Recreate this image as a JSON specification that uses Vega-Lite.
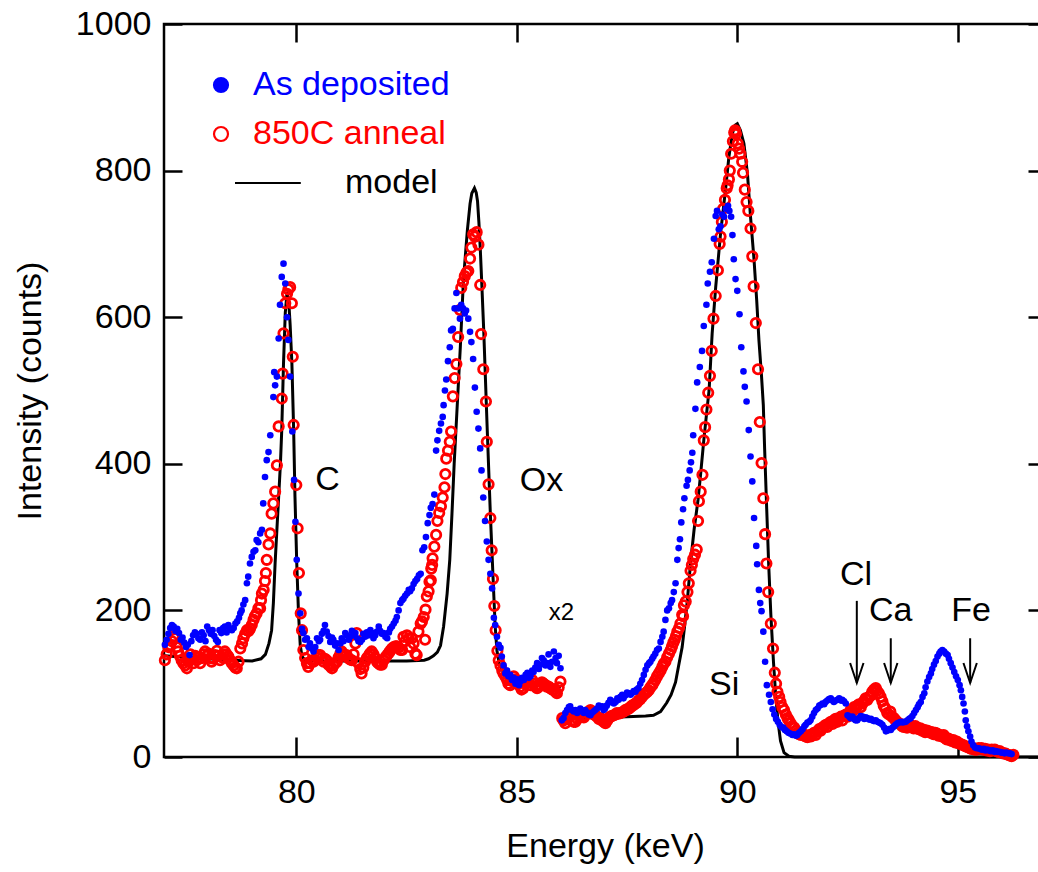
{
  "$schema": "https://vega.github.io/schema/vega-lite/v6.json",
  "autosize": {"type": "none"},
  "padding": {"left": 164, "top": 24, "right": 0, "bottom": 115},
  "width": 882,
  "height": 733,
  "config": {
    "view": {"stroke": "#000000", "strokeWidth": 2.5},
    "font": "Liberation Sans",
    "axis": {"labelFont": "Liberation Sans", "titleFont": "Liberation Sans", "labelColor": "#000000", "titleColor": "#000000", "titleFontWeight": "normal", "grid": false, "domain": false, "tickColor": "#000000", "tickWidth": 2.5},
    "legend": {
      "orient": "none", "legendX": 40, "legendY": 44, "title": null, "padding": 0,
      "labelFontSize": 34, "labelFont": "Liberation Sans", "labelOffset": 15, "rowPadding": 15, "symbolSize": 196, "labelLimit": 0
    }
  },
  "datasets": {
    "blue": [
      {"e":77.02,"i":153},{"e":77.06,"i":160},{"e":77.1,"i":168},{"e":77.14,"i":176},{"e":77.18,"i":180},{"e":77.22,"i":178},{"e":77.26,"i":172},{"e":77.3,"i":175},{"e":77.34,"i":169},{"e":77.38,"i":160},{"e":77.42,"i":163},{"e":77.46,"i":156},{"e":77.5,"i":150},{"e":77.54,"i":153},{"e":77.58,"i":139},{"e":77.62,"i":158},{"e":77.66,"i":166},{"e":77.7,"i":170},{"e":77.74,"i":168},{"e":77.78,"i":162},{"e":77.82,"i":160},{"e":77.86,"i":170},{"e":77.9,"i":166},{"e":77.94,"i":158},{"e":77.98,"i":178},{"e":78.02,"i":173},{"e":78.06,"i":168},{"e":78.1,"i":173},{"e":78.14,"i":165},{"e":78.18,"i":160},{"e":78.22,"i":157},{"e":78.26,"i":173},{"e":78.3,"i":169},{"e":78.34,"i":176},{"e":78.38,"i":178},{"e":78.42,"i":170},{"e":78.46,"i":180},{"e":78.5,"i":175},{"e":78.54,"i":173},{"e":78.58,"i":176},{"e":78.62,"i":182},{"e":78.66,"i":185},{"e":78.7,"i":190},{"e":78.73,"i":196},{"e":78.76,"i":200},{"e":78.8,"i":208},{"e":78.84,"i":214},{"e":78.88,"i":237},{"e":78.91,"i":246},{"e":78.95,"i":264},{"e":78.99,"i":273},{"e":79.03,"i":280},{"e":79.07,"i":282},{"e":79.1,"i":296},{"e":79.14,"i":293},{"e":79.18,"i":305},{"e":79.22,"i":310},{"e":79.25,"i":346},{"e":79.29,"i":382},{"e":79.33,"i":405},{"e":79.37,"i":416},{"e":79.41,"i":439},{"e":79.48,"i":491},{"e":79.5,"i":525},{"e":79.52,"i":507},{"e":79.56,"i":519},{"e":79.6,"i":571},{"e":79.63,"i":617},{"e":79.67,"i":655},{"e":79.71,"i":673},{"e":79.75,"i":646},{"e":79.79,"i":600},{"e":79.82,"i":569},{"e":79.86,"i":519},{"e":79.91,"i":444},{"e":79.95,"i":378},{"e":79.98,"i":321},{"e":80.01,"i":269},{"e":80.05,"i":223},{"e":80.09,"i":196},{"e":80.13,"i":175},{"e":80.16,"i":169},{"e":80.2,"i":160},{"e":80.24,"i":162},{"e":80.28,"i":150},{"e":80.31,"i":155},{"e":80.35,"i":148},{"e":80.39,"i":144},{"e":80.43,"i":150},{"e":80.47,"i":162},{"e":80.51,"i":158},{"e":80.54,"i":160},{"e":80.58,"i":168},{"e":80.62,"i":172},{"e":80.65,"i":180},{"e":80.69,"i":171},{"e":80.73,"i":165},{"e":80.77,"i":157},{"e":80.81,"i":163},{"e":80.84,"i":160},{"e":80.88,"i":152},{"e":80.92,"i":155},{"e":80.96,"i":146},{"e":81.0,"i":155},{"e":81.03,"i":162},{"e":81.07,"i":158},{"e":81.11,"i":169},{"e":81.15,"i":166},{"e":81.19,"i":160},{"e":81.22,"i":164},{"e":81.26,"i":172},{"e":81.3,"i":166},{"e":81.34,"i":169},{"e":81.38,"i":162},{"e":81.41,"i":158},{"e":81.45,"i":157},{"e":81.49,"i":160},{"e":81.52,"i":168},{"e":81.56,"i":164},{"e":81.6,"i":170},{"e":81.64,"i":166},{"e":81.68,"i":173},{"e":81.72,"i":169},{"e":81.75,"i":162},{"e":81.79,"i":166},{"e":81.83,"i":171},{"e":81.87,"i":178},{"e":81.9,"i":172},{"e":81.94,"i":168},{"e":81.98,"i":169},{"e":82.02,"i":164},{"e":82.06,"i":162},{"e":82.1,"i":170},{"e":82.13,"i":175},{"e":82.17,"i":178},{"e":82.21,"i":182},{"e":82.25,"i":186},{"e":82.28,"i":191},{"e":82.32,"i":200},{"e":82.36,"i":210},{"e":82.4,"i":214},{"e":82.43,"i":216},{"e":82.47,"i":220},{"e":82.51,"i":223},{"e":82.55,"i":228},{"e":82.58,"i":226},{"e":82.62,"i":230},{"e":82.66,"i":236},{"e":82.7,"i":240},{"e":82.74,"i":243},{"e":82.78,"i":248},{"e":82.82,"i":250},{"e":82.86,"i":282},{"e":82.9,"i":286},{"e":82.94,"i":300},{"e":82.98,"i":319},{"e":83.02,"i":330},{"e":83.05,"i":340},{"e":83.09,"i":345},{"e":83.13,"i":358},{"e":83.17,"i":418},{"e":83.2,"i":432},{"e":83.24,"i":445},{"e":83.28,"i":455},{"e":83.32,"i":464},{"e":83.34,"i":480},{"e":83.37,"i":500},{"e":83.4,"i":515},{"e":83.44,"i":540},{"e":83.48,"i":559},{"e":83.51,"i":582},{"e":83.55,"i":584},{"e":83.59,"i":612},{"e":83.63,"i":633},{"e":83.67,"i":612},{"e":83.71,"i":598},{"e":83.74,"i":617},{"e":83.78,"i":612},{"e":83.82,"i":605},{"e":83.85,"i":609},{"e":83.9,"i":598},{"e":83.94,"i":580},{"e":83.97,"i":566},{"e":84.01,"i":543},{"e":84.05,"i":504},{"e":84.09,"i":471},{"e":84.13,"i":448},{"e":84.17,"i":421},{"e":84.2,"i":391},{"e":84.24,"i":354},{"e":84.28,"i":322},{"e":84.32,"i":294},{"e":84.36,"i":269},{"e":84.4,"i":250},{"e":84.44,"i":230},{"e":84.48,"i":190},{"e":84.51,"i":180},{"e":84.55,"i":164},{"e":84.59,"i":153},{"e":84.63,"i":149},{"e":84.66,"i":137},{"e":84.7,"i":125},{"e":84.74,"i":114},{"e":84.78,"i":118},{"e":84.81,"i":110},{"e":84.85,"i":112},{"e":84.89,"i":105},{"e":84.93,"i":108},{"e":84.97,"i":100},{"e":85.01,"i":106},{"e":85.05,"i":98},{"e":85.08,"i":103},{"e":85.12,"i":108},{"e":85.16,"i":105},{"e":85.2,"i":112},{"e":85.24,"i":115},{"e":85.27,"i":108},{"e":85.31,"i":110},{"e":85.35,"i":118},{"e":85.38,"i":116},{"e":85.42,"i":122},{"e":85.46,"i":128},{"e":85.5,"i":120},{"e":85.53,"i":126},{"e":85.57,"i":135},{"e":85.61,"i":132},{"e":85.65,"i":125},{"e":85.69,"i":128},{"e":85.72,"i":140},{"e":85.76,"i":123},{"e":85.8,"i":130},{"e":85.84,"i":144},{"e":85.88,"i":135},{"e":85.91,"i":128},{"e":85.95,"i":138},{"e":85.99,"i":121},
      {"e":86.02,"i":50},{"e":86.06,"i":53},{"e":86.1,"i":60},{"e":86.14,"i":64},{"e":86.18,"i":68},{"e":86.21,"i":69},{"e":86.25,"i":64},{"e":86.29,"i":62},{"e":86.33,"i":64},{"e":86.37,"i":60},{"e":86.41,"i":63},{"e":86.44,"i":66},{"e":86.48,"i":62},{"e":86.52,"i":60},{"e":86.55,"i":64},{"e":86.59,"i":61},{"e":86.63,"i":58},{"e":86.67,"i":57},{"e":86.7,"i":60},{"e":86.74,"i":62},{"e":86.78,"i":64},{"e":86.82,"i":66},{"e":86.86,"i":70},{"e":86.9,"i":68},{"e":86.94,"i":69},{"e":86.97,"i":64},{"e":87.0,"i":66},{"e":87.04,"i":70},{"e":87.08,"i":74},{"e":87.12,"i":78},{"e":87.16,"i":76},{"e":87.2,"i":73},{"e":87.24,"i":75},{"e":87.28,"i":80},{"e":87.31,"i":78},{"e":87.35,"i":82},{"e":87.39,"i":85},{"e":87.42,"i":80},{"e":87.46,"i":84},{"e":87.5,"i":88},{"e":87.54,"i":87},{"e":87.58,"i":85},{"e":87.61,"i":87},{"e":87.65,"i":90},{"e":87.69,"i":89},{"e":87.72,"i":92},{"e":87.76,"i":94},{"e":87.8,"i":100},{"e":87.84,"i":105},{"e":87.88,"i":112},{"e":87.92,"i":119},{"e":87.96,"i":125},{"e":88.0,"i":128},{"e":88.03,"i":130},{"e":88.07,"i":134},{"e":88.1,"i":137},{"e":88.14,"i":141},{"e":88.18,"i":146},{"e":88.22,"i":148},{"e":88.26,"i":157},{"e":88.3,"i":164},{"e":88.33,"i":171},{"e":88.37,"i":187},{"e":88.41,"i":200},{"e":88.45,"i":203},{"e":88.49,"i":210},{"e":88.52,"i":214},{"e":88.56,"i":225},{"e":88.6,"i":237},{"e":88.64,"i":269},{"e":88.67,"i":285},{"e":88.7,"i":297},{"e":88.73,"i":320},{"e":88.77,"i":338},{"e":88.8,"i":353},{"e":88.85,"i":370},{"e":88.88,"i":378},{"e":88.92,"i":391},{"e":88.95,"i":402},{"e":88.98,"i":415},{"e":89.0,"i":439},{"e":89.05,"i":475},{"e":89.09,"i":511},{"e":89.15,"i":532},{"e":89.2,"i":554},{"e":89.24,"i":588},{"e":89.3,"i":617},{"e":89.33,"i":646},{"e":89.38,"i":662},{"e":89.42,"i":675},{"e":89.47,"i":707},{"e":89.51,"i":738},{"e":89.54,"i":745},{"e":89.58,"i":720},{"e":89.62,"i":724},{"e":89.66,"i":740},{"e":89.7,"i":737},{"e":89.74,"i":748},{"e":89.79,"i":752},{"e":89.82,"i":745},{"e":89.86,"i":737},{"e":89.89,"i":712},{"e":89.92,"i":679},{"e":89.96,"i":652},{"e":90.0,"i":636},{"e":90.05,"i":604},{"e":90.09,"i":559},{"e":90.14,"i":526},{"e":90.17,"i":505},{"e":90.21,"i":485},{"e":90.26,"i":446},{"e":90.3,"i":410},{"e":90.34,"i":376},{"e":90.38,"i":326},{"e":90.43,"i":288},{"e":90.45,"i":263},{"e":90.49,"i":228},{"e":90.52,"i":210},{"e":90.55,"i":199},{"e":90.59,"i":171},{"e":90.63,"i":130},{"e":90.67,"i":98},{"e":90.72,"i":85},{"e":90.76,"i":75},{"e":90.8,"i":65},{"e":90.84,"i":58},{"e":90.88,"i":52},{"e":90.92,"i":48},{"e":90.96,"i":44},{"e":91.0,"i":41},{"e":91.04,"i":40},{"e":91.08,"i":37},{"e":91.12,"i":35},{"e":91.16,"i":33},{"e":91.2,"i":32},{"e":91.25,"i":30},{"e":91.29,"i":31},{"e":91.33,"i":29},{"e":91.36,"i":30},{"e":91.4,"i":33},{"e":91.44,"i":35},{"e":91.48,"i":38},{"e":91.52,"i":42},{"e":91.55,"i":44},{"e":91.59,"i":47},{"e":91.63,"i":48},{"e":91.66,"i":50},{"e":91.7,"i":55},{"e":91.74,"i":60},{"e":91.78,"i":64},{"e":91.82,"i":66},{"e":91.86,"i":70},{"e":91.89,"i":71},{"e":91.93,"i":73},{"e":91.97,"i":72},{"e":92.0,"i":75},{"e":92.04,"i":77},{"e":92.08,"i":79},{"e":92.12,"i":80},{"e":92.16,"i":77},{"e":92.19,"i":75},{"e":92.23,"i":77},{"e":92.27,"i":78},{"e":92.31,"i":80},{"e":92.35,"i":77},{"e":92.38,"i":78},{"e":92.42,"i":76},{"e":92.46,"i":73},
      {"e":92.5,"i":57},{"e":92.54,"i":55},{"e":92.57,"i":53},{"e":92.61,"i":55},{"e":92.65,"i":52},{"e":92.68,"i":50},{"e":92.72,"i":50},{"e":92.76,"i":53},{"e":92.8,"i":56},{"e":92.84,"i":55},{"e":92.88,"i":52},{"e":92.91,"i":54},{"e":92.95,"i":53},{"e":92.99,"i":51},{"e":93.03,"i":52},{"e":93.06,"i":50},{"e":93.1,"i":49},{"e":93.14,"i":50},{"e":93.18,"i":48},{"e":93.22,"i":47},{"e":93.25,"i":46},{"e":93.29,"i":44},{"e":93.33,"i":40},{"e":93.37,"i":35},{"e":93.41,"i":36},{"e":93.44,"i":38},{"e":93.48,"i":37},{"e":93.52,"i":40},{"e":93.56,"i":42},{"e":93.59,"i":44},{"e":93.63,"i":46},{"e":93.67,"i":47},{"e":93.71,"i":48},{"e":93.75,"i":47},{"e":93.78,"i":48},{"e":93.82,"i":48},{"e":93.86,"i":50},{"e":93.9,"i":52},{"e":93.93,"i":53},{"e":93.97,"i":56},{"e":94.01,"i":60},{"e":94.05,"i":64},{"e":94.09,"i":68},{"e":94.12,"i":72},{"e":94.16,"i":75},{"e":94.2,"i":82},{"e":94.24,"i":87},{"e":94.27,"i":95},{"e":94.31,"i":103},{"e":94.35,"i":109},{"e":94.39,"i":114},{"e":94.42,"i":120},{"e":94.46,"i":126},{"e":94.5,"i":131},{"e":94.54,"i":137},{"e":94.58,"i":141},{"e":94.61,"i":144},{"e":94.65,"i":146},{"e":94.69,"i":144},{"e":94.73,"i":141},{"e":94.77,"i":139},{"e":94.8,"i":134},{"e":94.84,"i":128},{"e":94.88,"i":122},{"e":94.92,"i":116},{"e":94.96,"i":110},{"e":95.0,"i":105},{"e":95.04,"i":98},{"e":95.07,"i":91},{"e":95.1,"i":82},{"e":95.13,"i":73},{"e":95.16,"i":62},{"e":95.18,"i":50},{"e":95.21,"i":42},{"e":95.24,"i":35},{"e":95.28,"i":28},{"e":95.31,"i":21},{"e":95.35,"i":16},{"e":95.39,"i":13},{"e":95.43,"i":12},{"e":95.47,"i":12},{"e":95.51,"i":11},{"e":95.55,"i":10},{"e":95.59,"i":11},{"e":95.63,"i":9},{"e":95.67,"i":10},{"e":95.71,"i":9},{"e":95.75,"i":8},{"e":95.79,"i":9},{"e":95.83,"i":7},{"e":95.86,"i":8},{"e":95.9,"i":7},{"e":95.94,"i":7},{"e":95.98,"i":6},{"e":96.02,"i":6},{"e":96.06,"i":5},{"e":96.1,"i":6},{"e":96.14,"i":5},{"e":96.18,"i":5},{"e":96.22,"i":4}
    ],
    "red": [
      {"e":77.02,"i":132},{"e":77.06,"i":140},{"e":77.1,"i":150},{"e":77.14,"i":153},{"e":77.18,"i":158},{"e":77.22,"i":165},{"e":77.25,"i":162},{"e":77.29,"i":150},{"e":77.32,"i":144},{"e":77.36,"i":138},{"e":77.4,"i":132},{"e":77.44,"i":128},{"e":77.48,"i":125},{"e":77.52,"i":121},{"e":77.56,"i":130},{"e":77.6,"i":140},{"e":77.63,"i":135},{"e":77.67,"i":128},{"e":77.71,"i":138},{"e":77.74,"i":132},{"e":77.78,"i":136},{"e":77.82,"i":128},{"e":77.86,"i":135},{"e":77.9,"i":140},{"e":77.93,"i":144},{"e":77.97,"i":138},{"e":78.01,"i":141},{"e":78.05,"i":135},{"e":78.08,"i":130},{"e":78.12,"i":134},{"e":78.16,"i":139},{"e":78.2,"i":145},{"e":78.23,"i":138},{"e":78.27,"i":132},{"e":78.31,"i":136},{"e":78.34,"i":140},{"e":78.38,"i":144},{"e":78.42,"i":140},{"e":78.46,"i":137},{"e":78.5,"i":132},{"e":78.54,"i":128},{"e":78.58,"i":125},{"e":78.62,"i":122},{"e":78.65,"i":121},{"e":78.69,"i":130},{"e":78.73,"i":148},{"e":78.77,"i":155},{"e":78.8,"i":162},{"e":78.84,"i":168},{"e":78.88,"i":173},{"e":78.92,"i":172},{"e":78.95,"i":175},{"e":78.99,"i":180},{"e":79.03,"i":187},{"e":79.06,"i":192},{"e":79.1,"i":196},{"e":79.14,"i":203},{"e":79.18,"i":203},{"e":79.2,"i":214},{"e":79.22,"i":223},{"e":79.26,"i":228},{"e":79.29,"i":240},{"e":79.31,"i":251},{"e":79.33,"i":269},{"e":79.37,"i":290},{"e":79.41,"i":305},{"e":79.44,"i":332},{"e":79.48,"i":346},{"e":79.52,"i":362},{"e":79.56,"i":398},{"e":79.6,"i":451},{"e":79.67,"i":489},{"e":79.69,"i":523},{"e":79.71,"i":578},{"e":79.75,"i":619},{"e":79.79,"i":632},{"e":79.82,"i":638},{"e":79.86,"i":641},{"e":79.9,"i":619},{"e":79.92,"i":546},{"e":79.94,"i":453},{"e":80.0,"i":371},{"e":80.03,"i":312},{"e":80.06,"i":251},{"e":80.1,"i":196},{"e":80.13,"i":173},{"e":80.16,"i":146},{"e":80.2,"i":135},{"e":80.24,"i":128},{"e":80.27,"i":123},{"e":80.31,"i":128},{"e":80.35,"i":132},{"e":80.39,"i":130},{"e":80.43,"i":132},{"e":80.47,"i":136},{"e":80.5,"i":139},{"e":80.54,"i":139},{"e":80.58,"i":135},{"e":80.62,"i":130},{"e":80.65,"i":134},{"e":80.69,"i":132},{"e":80.73,"i":126},{"e":80.77,"i":124},{"e":80.81,"i":121},{"e":80.84,"i":125},{"e":80.88,"i":128},{"e":80.92,"i":130},{"e":80.96,"i":136},{"e":81.0,"i":141},{"e":81.03,"i":144},{"e":81.07,"i":140},{"e":81.11,"i":138},{"e":81.14,"i":139},{"e":81.18,"i":135},{"e":81.22,"i":133},{"e":81.26,"i":132},{"e":81.3,"i":140},{"e":81.34,"i":155},{"e":81.37,"i":169},{"e":81.41,"i":128},{"e":81.45,"i":120},{"e":81.48,"i":114},{"e":81.52,"i":122},{"e":81.56,"i":130},{"e":81.6,"i":135},{"e":81.64,"i":138},{"e":81.67,"i":141},{"e":81.71,"i":144},{"e":81.75,"i":140},{"e":81.79,"i":135},{"e":81.83,"i":130},{"e":81.86,"i":128},{"e":81.9,"i":126},{"e":81.94,"i":126},{"e":81.98,"i":132},{"e":82.02,"i":136},{"e":82.06,"i":139},{"e":82.1,"i":142},{"e":82.13,"i":145},{"e":82.17,"i":148},{"e":82.21,"i":150},{"e":82.25,"i":151},{"e":82.28,"i":151},{"e":82.32,"i":149},{"e":82.36,"i":146},{"e":82.4,"i":146},{"e":82.43,"i":164},{"e":82.47,"i":158},{"e":82.51,"i":166},{"e":82.55,"i":162},{"e":82.58,"i":150},{"e":82.62,"i":162},{"e":82.66,"i":155},{"e":82.7,"i":141},{"e":82.73,"i":139},{"e":82.77,"i":171},{"e":82.82,"i":182},{"e":82.85,"i":185},{"e":82.89,"i":191},{"e":82.92,"i":160},{"e":82.93,"i":201},{"e":82.96,"i":219},{"e":83.0,"i":226},{"e":83.02,"i":239},{"e":83.05,"i":241},{"e":83.06,"i":257},{"e":83.08,"i":262},{"e":83.09,"i":271},{"e":83.13,"i":287},{"e":83.17,"i":303},{"e":83.2,"i":322},{"e":83.24,"i":333},{"e":83.28,"i":342},{"e":83.32,"i":354},{"e":83.36,"i":368},{"e":83.38,"i":386},{"e":83.4,"i":407},{"e":83.44,"i":418},{"e":83.48,"i":430},{"e":83.51,"i":444},{"e":83.55,"i":492},{"e":83.59,"i":517},{"e":83.63,"i":536},{"e":83.67,"i":573},{"e":83.71,"i":610},{"e":83.74,"i":640},{"e":83.78,"i":648},{"e":83.82,"i":656},{"e":83.86,"i":661},{"e":83.9,"i":663},{"e":83.94,"i":680},{"e":83.97,"i":695},{"e":84.01,"i":713},{"e":84.05,"i":710},{"e":84.09,"i":716},{"e":84.13,"i":699},{"e":84.17,"i":644},{"e":84.19,"i":577},{"e":84.24,"i":529},{"e":84.3,"i":485},{"e":84.32,"i":430},{"e":84.36,"i":372},{"e":84.4,"i":326},{"e":84.43,"i":282},{"e":84.46,"i":243},{"e":84.49,"i":206},{"e":84.52,"i":173},{"e":84.56,"i":145},{"e":84.59,"i":132},{"e":84.63,"i":125},{"e":84.67,"i":118},{"e":84.7,"i":114},{"e":84.74,"i":110},{"e":84.78,"i":105},{"e":84.81,"i":100},{"e":84.85,"i":98},{"e":84.89,"i":104},{"e":84.93,"i":110},{"e":84.96,"i":106},{"e":85.0,"i":105},{"e":85.04,"i":100},{"e":85.08,"i":96},{"e":85.11,"i":92},{"e":85.15,"i":94},{"e":85.19,"i":100},{"e":85.23,"i":105},{"e":85.27,"i":102},{"e":85.31,"i":98},{"e":85.35,"i":105},{"e":85.38,"i":100},{"e":85.42,"i":96},{"e":85.46,"i":94},{"e":85.5,"i":96},{"e":85.53,"i":98},{"e":85.57,"i":102},{"e":85.61,"i":100},{"e":85.65,"i":98},{"e":85.68,"i":96},{"e":85.72,"i":96},{"e":85.76,"i":94},{"e":85.8,"i":92},{"e":85.84,"i":91},{"e":85.88,"i":89},{"e":85.91,"i":87},{"e":85.95,"i":95},{"e":85.99,"i":103},
      {"e":86.03,"i":53},{"e":86.06,"i":50},{"e":86.1,"i":46},{"e":86.14,"i":52},{"e":86.17,"i":55},{"e":86.21,"i":55},{"e":86.25,"i":50},{"e":86.29,"i":48},{"e":86.33,"i":48},{"e":86.37,"i":52},{"e":86.41,"i":56},{"e":86.44,"i":59},{"e":86.48,"i":55},{"e":86.52,"i":54},{"e":86.55,"i":57},{"e":86.59,"i":60},{"e":86.63,"i":62},{"e":86.67,"i":64},{"e":86.7,"i":60},{"e":86.74,"i":58},{"e":86.78,"i":57},{"e":86.82,"i":55},{"e":86.86,"i":52},{"e":86.9,"i":53},{"e":86.93,"i":50},{"e":86.97,"i":48},{"e":87.01,"i":46},{"e":87.05,"i":50},{"e":87.08,"i":53},{"e":87.12,"i":55},{"e":87.16,"i":56},{"e":87.2,"i":57},{"e":87.24,"i":58},{"e":87.27,"i":60},{"e":87.31,"i":59},{"e":87.35,"i":60},{"e":87.39,"i":61},{"e":87.43,"i":62},{"e":87.46,"i":64},{"e":87.5,"i":65},{"e":87.54,"i":66},{"e":87.58,"i":68},{"e":87.61,"i":70},{"e":87.65,"i":71},{"e":87.69,"i":73},{"e":87.72,"i":74},{"e":87.76,"i":77},{"e":87.8,"i":79},{"e":87.84,"i":82},{"e":87.88,"i":85},{"e":87.92,"i":87},{"e":87.96,"i":89},{"e":87.99,"i":91},{"e":88.03,"i":95},{"e":88.07,"i":98},{"e":88.1,"i":101},{"e":88.14,"i":105},{"e":88.18,"i":110},{"e":88.22,"i":114},{"e":88.26,"i":118},{"e":88.3,"i":123},{"e":88.33,"i":127},{"e":88.37,"i":130},{"e":88.41,"i":136},{"e":88.45,"i":141},{"e":88.49,"i":146},{"e":88.52,"i":151},{"e":88.55,"i":156},{"e":88.58,"i":160},{"e":88.61,"i":165},{"e":88.64,"i":171},{"e":88.68,"i":176},{"e":88.71,"i":182},{"e":88.75,"i":194},{"e":88.77,"i":192},{"e":88.79,"i":207},{"e":88.83,"i":212},{"e":88.87,"i":225},{"e":88.9,"i":237},{"e":88.94,"i":254},{"e":88.97,"i":262},{"e":89.0,"i":270},{"e":89.04,"i":276},{"e":89.08,"i":283},{"e":89.11,"i":322},{"e":89.13,"i":349},{"e":89.17,"i":362},{"e":89.21,"i":385},{"e":89.24,"i":432},{"e":89.27,"i":450},{"e":89.3,"i":474},{"e":89.34,"i":497},{"e":89.38,"i":520},{"e":89.42,"i":554},{"e":89.46,"i":598},{"e":89.51,"i":629},{"e":89.56,"i":664},{"e":89.6,"i":700},{"e":89.62,"i":710},{"e":89.65,"i":730},{"e":89.68,"i":748},{"e":89.72,"i":760},{"e":89.76,"i":776},{"e":89.78,"i":780},{"e":89.81,"i":788},{"e":89.83,"i":800},{"e":89.86,"i":823},{"e":89.9,"i":840},{"e":89.93,"i":852},{"e":89.95,"i":855},{"e":89.97,"i":850},{"e":90.01,"i":837},{"e":90.04,"i":830},{"e":90.07,"i":823},{"e":90.11,"i":812},{"e":90.13,"i":797},{"e":90.17,"i":774},{"e":90.21,"i":757},{"e":90.25,"i":745},{"e":90.3,"i":721},{"e":90.34,"i":683},{"e":90.37,"i":642},{"e":90.42,"i":592},{"e":90.47,"i":529},{"e":90.51,"i":457},{"e":90.55,"i":401},{"e":90.59,"i":353},{"e":90.63,"i":304},{"e":90.66,"i":264},{"e":90.7,"i":225},{"e":90.76,"i":182},{"e":90.81,"i":148},{"e":90.85,"i":115},{"e":90.88,"i":100},{"e":90.91,"i":89},{"e":90.95,"i":82},{"e":90.98,"i":75},{"e":91.02,"i":68},{"e":91.06,"i":64},{"e":91.1,"i":58},{"e":91.14,"i":53},{"e":91.17,"i":50},{"e":91.21,"i":46},{"e":91.25,"i":42},{"e":91.29,"i":40},{"e":91.33,"i":36},{"e":91.36,"i":33},{"e":91.4,"i":31},{"e":91.44,"i":30},{"e":91.48,"i":32},{"e":91.52,"i":29},{"e":91.55,"i":28},{"e":91.59,"i":27},{"e":91.63,"i":30},{"e":91.67,"i":28},{"e":91.71,"i":31},{"e":91.74,"i":33},{"e":91.78,"i":30},{"e":91.82,"i":35},{"e":91.86,"i":38},{"e":91.89,"i":36},{"e":91.93,"i":40},{"e":91.97,"i":42},{"e":92.01,"i":44},{"e":92.04,"i":41},{"e":92.08,"i":46},{"e":92.12,"i":48},{"e":92.16,"i":45},{"e":92.19,"i":50},{"e":92.23,"i":52},{"e":92.27,"i":48},{"e":92.31,"i":53},{"e":92.35,"i":55},{"e":92.38,"i":50},{"e":92.42,"i":56},{"e":92.46,"i":58},{"e":92.5,"i":55},{"e":92.54,"i":60},{"e":92.57,"i":64},{"e":92.61,"i":62},{"e":92.65,"i":68},{"e":92.69,"i":66},{"e":92.72,"i":70},{"e":92.76,"i":72},{"e":92.8,"i":68},{"e":92.84,"i":73},{"e":92.87,"i":76},{"e":92.91,"i":80},{"e":92.95,"i":78},{"e":92.99,"i":82},{"e":93.03,"i":84},{"e":93.06,"i":89},{"e":93.1,"i":92},{"e":93.14,"i":94},{"e":93.17,"i":90},{"e":93.21,"i":87},{"e":93.25,"i":82},{"e":93.29,"i":76},{"e":93.32,"i":70},{"e":93.36,"i":66},{"e":93.4,"i":60},{"e":93.44,"i":58},{"e":93.47,"i":62},{"e":93.51,"i":55},{"e":93.55,"i":53},{"e":93.59,"i":50},{"e":93.62,"i":48},{"e":93.66,"i":46},{"e":93.7,"i":45},{"e":93.74,"i":42},{"e":93.77,"i":41},{"e":93.81,"i":44},{"e":93.85,"i":40},{"e":93.89,"i":42},{"e":93.92,"i":44},{"e":93.96,"i":41},{"e":94.0,"i":39},{"e":94.04,"i":42},{"e":94.08,"i":40},{"e":94.11,"i":38},{"e":94.15,"i":39},{"e":94.19,"i":36},{"e":94.23,"i":37},{"e":94.26,"i":34},{"e":94.3,"i":36},{"e":94.34,"i":35},{"e":94.38,"i":33},{"e":94.41,"i":34},{"e":94.45,"i":31},{"e":94.49,"i":33},{"e":94.53,"i":32},{"e":94.56,"i":29},{"e":94.6,"i":30},{"e":94.64,"i":28},{"e":94.68,"i":30},{"e":94.71,"i":26},{"e":94.75,"i":24},{"e":94.79,"i":25},{"e":94.83,"i":23},{"e":94.86,"i":22},{"e":94.9,"i":23},{"e":94.94,"i":20},{"e":94.98,"i":21},{"e":95.01,"i":19},{"e":95.05,"i":18},{"e":95.09,"i":17},{"e":95.13,"i":16},{"e":95.16,"i":15},{"e":95.2,"i":14},{"e":95.24,"i":13},{"e":95.28,"i":12},{"e":95.31,"i":11},{"e":95.35,"i":12},{"e":95.39,"i":10},{"e":95.43,"i":10},{"e":95.47,"i":12},{"e":95.5,"i":11},{"e":95.54,"i":12},{"e":95.58,"i":10},{"e":95.62,"i":11},{"e":95.65,"i":9},{"e":95.69,"i":10},{"e":95.73,"i":8},{"e":95.77,"i":10},{"e":95.8,"i":9},{"e":95.84,"i":10},{"e":95.88,"i":8},{"e":95.92,"i":7},{"e":95.95,"i":8},{"e":95.99,"i":6},{"e":96.03,"i":5},{"e":96.07,"i":5},{"e":96.1,"i":4},{"e":96.14,"i":3},{"e":96.18,"i":2},{"e":96.22,"i":1},{"e":96.26,"i":3}
    ],
    "model": [
      {"s":1,"e":77.0,"i":138},{"s":1,"e":77.5,"i":136},{"s":1,"e":78.0,"i":134},{"s":1,"e":78.5,"i":132},{"s":1,"e":79.0,"i":131},{"s":1,"e":79.2,"i":134},{"s":1,"e":79.3,"i":140},{"s":1,"e":79.38,"i":155},{"s":1,"e":79.44,"i":173},{"s":1,"e":79.48,"i":210},{"s":1,"e":79.52,"i":265},{"s":1,"e":79.56,"i":310},{"s":1,"e":79.6,"i":355},{"s":1,"e":79.64,"i":400},{"s":1,"e":79.67,"i":446},{"s":1,"e":79.71,"i":537},{"s":1,"e":79.75,"i":606},{"s":1,"e":79.79,"i":634},{"s":1,"e":79.83,"i":620},{"s":1,"e":79.86,"i":590},{"s":1,"e":79.9,"i":537},{"s":1,"e":79.94,"i":446},{"s":1,"e":79.97,"i":355},{"s":1,"e":80.01,"i":265},{"s":1,"e":80.05,"i":196},{"s":1,"e":80.09,"i":152},{"s":1,"e":80.13,"i":137},{"s":1,"e":80.2,"i":132},{"s":1,"e":80.5,"i":131},{"s":1,"e":81.0,"i":131},{"s":1,"e":81.5,"i":131},{"s":1,"e":82.0,"i":131},{"s":1,"e":82.5,"i":131},{"s":1,"e":82.9,"i":132},{"s":1,"e":83.0,"i":134},{"s":1,"e":83.11,"i":138},{"s":1,"e":83.2,"i":143},{"s":1,"e":83.27,"i":152},{"s":1,"e":83.34,"i":178},{"s":1,"e":83.42,"i":223},{"s":1,"e":83.48,"i":269},{"s":1,"e":83.53,"i":332},{"s":1,"e":83.58,"i":400},{"s":1,"e":83.64,"i":469},{"s":1,"e":83.72,"i":560},{"s":1,"e":83.79,"i":651},{"s":1,"e":83.88,"i":719},{"s":1,"e":83.94,"i":755},{"s":1,"e":83.98,"i":769},{"s":1,"e":84.04,"i":776},{"s":1,"e":84.08,"i":770},{"s":1,"e":84.11,"i":758},{"s":1,"e":84.14,"i":730},{"s":1,"e":84.17,"i":696},{"s":1,"e":84.21,"i":640},{"s":1,"e":84.25,"i":582},{"s":1,"e":84.33,"i":446},{"s":1,"e":84.4,"i":332},{"s":1,"e":84.44,"i":275},{"s":1,"e":84.48,"i":219},{"s":1,"e":84.51,"i":178},{"s":1,"e":84.55,"i":145},{"s":1,"e":84.6,"i":128},{"s":1,"e":84.7,"i":115},{"s":1,"e":84.85,"i":106},{"s":1,"e":85.0,"i":102},{"s":1,"e":85.5,"i":98},{"s":1,"e":86.0,"i":96},
      {"s":2,"e":86.01,"i":54},{"s":2,"e":86.5,"i":54},{"s":2,"e":87.0,"i":54},{"s":2,"e":87.5,"i":55},{"s":2,"e":87.92,"i":56},{"s":2,"e":88.1,"i":57},{"s":2,"e":88.26,"i":62},{"s":2,"e":88.4,"i":74},{"s":2,"e":88.5,"i":85},{"s":2,"e":88.6,"i":102},{"s":2,"e":88.68,"i":128},{"s":2,"e":88.75,"i":150},{"s":2,"e":88.8,"i":176},{"s":2,"e":88.87,"i":215},{"s":2,"e":88.94,"i":265},{"s":2,"e":89.02,"i":310},{"s":2,"e":89.11,"i":351},{"s":2,"e":89.17,"i":387},{"s":2,"e":89.24,"i":432},{"s":2,"e":89.32,"i":478},{"s":2,"e":89.36,"i":500},{"s":2,"e":89.43,"i":578},{"s":2,"e":89.51,"i":641},{"s":2,"e":89.62,"i":714},{"s":2,"e":89.74,"i":778},{"s":2,"e":89.81,"i":819},{"s":2,"e":89.89,"i":851},{"s":2,"e":89.95,"i":862},{"s":2,"e":90.0,"i":864},{"s":2,"e":90.07,"i":855},{"s":2,"e":90.15,"i":837},{"s":2,"e":90.23,"i":796},{"s":2,"e":90.3,"i":737},{"s":2,"e":90.38,"i":678},{"s":2,"e":90.44,"i":623},{"s":2,"e":90.49,"i":569},{"s":2,"e":90.55,"i":519},{"s":2,"e":90.59,"i":480},{"s":2,"e":90.62,"i":420},{"s":2,"e":90.66,"i":350},{"s":2,"e":90.71,"i":265},{"s":2,"e":90.76,"i":195},{"s":2,"e":90.82,"i":130},{"s":2,"e":90.87,"i":85},{"s":2,"e":90.92,"i":50},{"s":2,"e":90.98,"i":22},{"s":2,"e":91.06,"i":6},{"s":2,"e":91.17,"i":1},{"s":2,"e":91.3,"i":0},{"s":2,"e":97.0,"i":0}
    ],
    "labels": [
      {"t":"C","e":80.71,"i":364},{"t":"Ox","e":85.56,"i":363},{"t":"Si","e":89.7,"i":85},{"t":"Cl","e":92.69,"i":235},{"t":"Ca","e":93.48,"i":185},{"t":"Fe","e":95.3,"i":185}
    ],
    "small": [{"t":"x2","e":86.01,"i":187}],
    "arrows": [
      {"e":92.71,"top":213,"tip":101},{"e":93.48,"top":162,"tip":101},{"e":95.28,"top":162,"tip":101}
    ]
  },
  "resolve": {"axis": {"x": "independent", "y": "independent"}},
  "layer": [
    {
      "data": {"name": "model"},
      "mark": {"type": "line", "strokeWidth": 3, "interpolate": "linear"},
      "encoding": {
        "x": {"field": "e", "type": "quantitative", "scale": {"domain": [77, 97], "nice": false, "zero": false},
              "axis": {"orient": "top", "labels": false, "title": null, "values": [80, 85, 90, 95], "tickSize": -18}},
        "y": {"field": "i", "type": "quantitative", "scale": {"domain": [0, 1000], "nice": false},
              "axis": {"orient": "right", "labels": false, "title": null, "values": [0, 200, 400, 600, 800, 1000], "tickSize": -18}},
        "detail": {"field": "s", "type": "nominal"},
        "order": {"field": "e", "type": "quantitative"},
        "color": {
          "datum": "model",
          "scale": {"domain": ["As deposited", "850C anneal", "model"], "range": ["#0000ff", "#ff0000", "#000000"]},
          "legend": {
            "encode": {
              "labels": {"update": {
                "dx": {"signal": "datum.value == 'model' ? 92 : 0"},
                "fill": {"signal": "datum.value == 'As deposited' ? '#0000ff' : datum.value == '850C anneal' ? '#ff0000' : '#000000'"}}},
              "symbols": {"update": {
                "shape": {"signal": "datum.value == 'model' ? 'M 2 0 L 11.4 0' : 'circle'"},
                "fill": {"signal": "datum.value == 'As deposited' ? '#0000ff' : 'transparent'"},
                "fillOpacity": {"signal": "datum.value == 'As deposited' ? 1 : 0"},
                "stroke": {"signal": "datum.value == 'As deposited' ? '#0000ff' : datum.value == '850C anneal' ? '#ff0000' : '#000000'"},
                "strokeWidth": {"value": 2.2},
                "size": {"value": 196},
                "opacity": {"value": 1}
              }}
            }
          }
        }
      }
    },
    {
      "data": {"name": "red"},
      "mark": {"type": "point", "filled": false, "strokeWidth": 2.8, "size": 88, "opacity": 1},
      "encoding": {
        "x": {"field": "e", "type": "quantitative", "axis": null},
        "y": {"field": "i", "type": "quantitative", "axis": null},
        "color": {
          "datum": "850C anneal",
          "legend": {
            "encode": {
              "labels": {"update": {
                "dx": {"signal": "datum.value == 'model' ? 92 : 0"},
                "fill": {"signal": "datum.value == 'As deposited' ? '#0000ff' : datum.value == '850C anneal' ? '#ff0000' : '#000000'"}}},
              "symbols": {"update": {
                "shape": {"signal": "datum.value == 'model' ? 'M 2 0 L 11.4 0' : 'circle'"},
                "fill": {"signal": "datum.value == 'As deposited' ? '#0000ff' : 'transparent'"},
                "fillOpacity": {"signal": "datum.value == 'As deposited' ? 1 : 0"},
                "stroke": {"signal": "datum.value == 'As deposited' ? '#0000ff' : datum.value == '850C anneal' ? '#ff0000' : '#000000'"},
                "strokeWidth": {"value": 2.2},
                "size": {"value": 196},
                "opacity": {"value": 1}
              }}
            }
          }
        }
      }
    },
    {
      "data": {"name": "blue"},
      "mark": {"type": "point", "filled": true, "size": 44, "opacity": 1},
      "encoding": {
        "x": {"field": "e", "type": "quantitative",
              "axis": {"orient": "bottom", "values": [80, 85, 90, 95], "tickSize": -20, "labelFontSize": 34, "labelPadding": 38, "title": "Energy (keV)", "titleFontSize": 34, "titlePadding": 20}},
        "y": {"field": "i", "type": "quantitative",
              "axis": {"orient": "left", "values": [0, 200, 400, 600, 800, 1000], "format": "d", "tickSize": -18, "labelFontSize": 34, "labelPadding": 31, "title": "Intensity (counts)", "titleFontSize": 34, "titlePadding": 28}},
        "color": {
          "datum": "As deposited",
          "legend": {
            "encode": {
              "labels": {"update": {
                "dx": {"signal": "datum.value == 'model' ? 92 : 0"},
                "fill": {"signal": "datum.value == 'As deposited' ? '#0000ff' : datum.value == '850C anneal' ? '#ff0000' : '#000000'"}}},
              "symbols": {"update": {
                "shape": {"signal": "datum.value == 'model' ? 'M 2 0 L 11.4 0' : 'circle'"},
                "fill": {"signal": "datum.value == 'As deposited' ? '#0000ff' : 'transparent'"},
                "fillOpacity": {"signal": "datum.value == 'As deposited' ? 1 : 0"},
                "stroke": {"signal": "datum.value == 'As deposited' ? '#0000ff' : datum.value == '850C anneal' ? '#ff0000' : '#000000'"},
                "strokeWidth": {"value": 2.2},
                "size": {"value": 196},
                "opacity": {"value": 1}
              }}
            }
          }
        }
      }
    },
    {
      "data": {"name": "arrows"},
      "mark": {"type": "rule", "strokeWidth": 2, "color": "#000000"},
      "encoding": {
        "x": {"field": "e", "type": "quantitative", "axis": null},
        "y": {"field": "top", "type": "quantitative", "axis": null},
        "y2": {"field": "tip"}
      }
    },
    {
      "data": {"name": "arrows"},
      "mark": {"type": "point", "shape": "M -0.67 -2 L 0 0 L 0.67 -2", "size": 400, "filled": false, "stroke": "#000000", "strokeWidth": 2, "opacity": 1},
      "encoding": {
        "x": {"field": "e", "type": "quantitative", "axis": null},
        "y": {"field": "tip", "type": "quantitative", "axis": null}
      }
    },
    {
      "data": {"name": "labels"},
      "mark": {"type": "text", "fontSize": 34, "font": "Liberation Sans", "align": "center", "baseline": "alphabetic", "color": "#000000"},
      "encoding": {
        "x": {"field": "e", "type": "quantitative", "axis": null},
        "y": {"field": "i", "type": "quantitative", "axis": null},
        "text": {"field": "t"}
      }
    },
    {
      "data": {"name": "small"},
      "mark": {"type": "text", "fontSize": 24, "font": "Liberation Sans", "align": "center", "baseline": "alphabetic", "color": "#000000"},
      "encoding": {
        "x": {"field": "e", "type": "quantitative", "axis": null},
        "y": {"field": "i", "type": "quantitative", "axis": null},
        "text": {"field": "t"}
      }
    }
  ]
}
